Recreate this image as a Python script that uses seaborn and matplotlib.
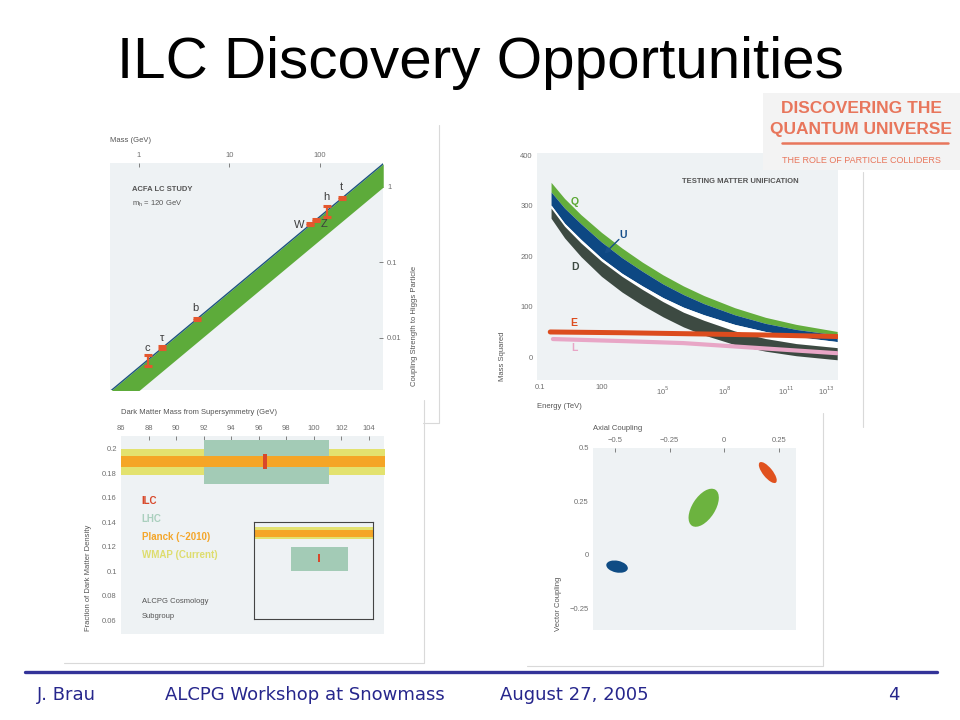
import matplotlib.pyplot as plt
import seaborn as sns
from matplotlib.patches import Ellipse, Rectangle
from matplotlib.ticker import NullLocator

sns.set_style("white")
plt.rcParams['font.family'] = ['Liberation Sans', 'DejaVu Sans']

W, H = 960, 720


def fx(px):
    return px / W


def fy(py):
    return 1 - py / H


def box(l, t, r, b):
    return [l / W, 1 - b / H, (r - l) / W, (b - t) / H]


PANEL_BG = "#eef2f4"
TICK_C = "#6f6f6f"
TEXT_C = "#555555"

# ---- panel 1: coupling strength vs mass
mass_edge = [0.48, 500]
coupling_hi = [0.00195, 2.03]
coupling_lo = [0.00096, 1.0]
particles = ["c", "τ", "b", "W", "Z", "h", "t"]
p_mass = [1.26, 1.8, 4.4, 77.6, 91, 120, 175]
p_coupling = [0.0051, 0.0074, 0.0179, 0.32, 0.366, 0.48, 0.715]
p_err = [0.0008, 0.0003, 0.0006, 0.01, 0.01, 0.08, 0.025]

# ---- panel 2: matter unification (x = log10 energy / TeV)
log_e = [-0.46, 0.2, 1.0, 2.0, 3.0, 4.0, 5.0, 6.0, 7.0, 8.5, 10.0, 11.5, 13.5]
q_top = [346, 314, 282, 247, 216, 188, 163, 141, 122, 98, 79, 65, 51]
u_top = [327, 295, 264, 228, 197, 170, 145, 124, 106, 84, 67, 55, 44]
u_bot = [301, 265, 233, 196, 166, 141, 118, 99, 84, 65, 51, 41, 31]
d_top = [295, 259, 226, 190, 160, 134, 110, 89, 73, 52, 37, 27, 19]
d_bot = [275, 236, 199, 160, 129, 103, 80, 60, 44, 25, 12, 3, -5]
e_loge = [-0.5, 3, 7, 10, 13.5]
e_mass = [50, 48.5, 46, 44, 41]
l_loge = [-0.37, 3, 6, 9, 13.5]
l_mass = [36, 32, 28, 20, 8]
e_ticks = [-1, 2, 5, 8, 11, 13]
e_labels = ["0.1", "100", "10$^5$", "10$^8$", "10$^{11}$", "10$^{13}$"]

# ---- panel 3: dark matter density
dm_range = [86, 105.2]
wmap_band = [0.179, 0.2]
planck_band = [0.1854, 0.1943]
lhc_mass = [92.0, 101.1]
lhc_band = [0.1715, 0.2073]
ilc_mass = [96.3, 96.6]
ilc_band = [0.1837, 0.196]
dm_legend = ["ILC", "LHC", "Planck (~2010)", "WMAP (Current)"]
dm_legend_colors = ["#d8482a", "#a9cfbd", "#f4a62a", "#dedd6e"]
# inset (schematic, fraction of inset box)
inset_wmap = [0.825, 0.948]
inset_planck = [0.845, 0.918]
inset_lhc_x = [0.311, 0.79]
inset_lhc_y = [0.495, 0.742]
inset_ilc_x = [0.538, 0.556]
inset_ilc_y = [0.588, 0.67]

# ---- panel 4: axial / vector couplings
ell_axial = [-0.49, -0.094, 0.199]
ell_vector = [-0.056, 0.22, 0.385]
ell_width = [0.10, 0.20, 0.12]
ell_height = [0.055, 0.105, 0.045]
ell_angle = [-12, 58, -52]
ell_color = ["#0f4c84", "#6cb33f", "#e0521f"]

fig = plt.figure(figsize=(9.6, 7.2), dpi=100)

# faint frames of the pasted figures
frame_c = "#d9d9d9"
for xs, ys in [([439, 439, 423], [125, 423, 423]),
               ([424, 424, 64], [400, 663, 663]),
               ([863, 863], [172, 427]),
               ([823, 823, 527], [413, 666, 666])]:
    fig.add_artist(plt.Line2D([fx(v) for v in xs], [fy(v) for v in ys],
                              color=frame_c, lw=0.8))


def style_axes(ax):
    ax.set_facecolor(PANEL_BG)
    for s in ax.spines.values():
        s.set_visible(False)
    ax.tick_params(direction="in", length=3, width=0.6, color=TICK_C,
                   labelsize=5.5, labelcolor=TICK_C, pad=3)
    ax.set_xlabel("")
    ax.set_ylabel("")


# ===== panel 1 =====
ax1 = fig.add_axes(box(110, 163, 383, 390))
ax1.set_xscale("log")
ax1.set_yscale("log")
ax1.fill_between(mass_edge, coupling_lo, coupling_hi, color="#5dab3a", lw=0)
sns.lineplot(x=mass_edge, y=coupling_hi, ax=ax1, color="#1d557f", lw=1.0)
ax1.errorbar(p_mass, p_coupling, yerr=p_err, fmt="none", ecolor="#e4572e",
             elinewidth=1.6, capsize=2.6, capthick=2.2, zorder=5)
label_off = [(-1, 12), (0, 10), (-2, 11), (-11, -1), (8, -4), (-1, 14), (-1, 11)]
for name, m, c, off in zip(particles, p_mass, p_coupling, label_off):
    ax1.annotate(name, (m, c), xytext=off, textcoords="offset pixels",
                 ha="center", va="center", fontsize=8, color="#3d3d3d")
ax1.set_xlim(0.48, 497)
ax1.set_ylim(0.00204, 2.08)
style_axes(ax1)
ax1.xaxis.tick_top()
ax1.yaxis.tick_right()
ax1.set_xticks([1, 10, 100], ["1", "10", "100"])
ax1.set_yticks([0.01, 0.1, 1], ["0.01", "0.1", "1"])
ax1.xaxis.set_minor_locator(NullLocator())
ax1.yaxis.set_minor_locator(NullLocator())
ax1.text(0.08, 0.885, "ACFA LC STUDY", transform=ax1.transAxes,
         fontsize=5.5, fontweight="bold", color="#555", va="center")
ax1.text(0.08, 0.82, "m$_\\mathregular{h}$ = 120 GeV", transform=ax1.transAxes,
         fontsize=5.5, color="#555", va="center")
fig.text(fx(110), fy(140), "Mass (GeV)", fontsize=5.5, color=TEXT_C, va="center")
fig.text(fx(415), fy(326), "Coupling Strength to Higgs Particle", fontsize=5.5,
         color=TEXT_C, rotation=90, ha="center", va="center")

# ===== panel 2 =====
ax2 = fig.add_axes(box(537, 153, 838, 380))
ax2.fill_between(log_e, u_top, q_top, color="#63ad3c", lw=0)
ax2.fill_between(log_e, u_bot, u_top, color="#0d4883", lw=0)
ax2.fill_between(log_e, d_top, u_bot, color="white", lw=0)
ax2.fill_between(log_e, d_bot, d_top, color="#3d4a42", lw=0)
sns.lineplot(x=e_loge, y=e_mass, ax=ax2, color="#dc4c1e", lw=3.6)
sns.lineplot(x=l_loge, y=l_mass, ax=ax2, color="#e8a6c6", lw=3.0)
ax2.text(0.71, 307, "Q", color="#5aa832", fontsize=7.5, fontweight="bold",
         ha="center", va="center")
ax2.text(3.05, 242, "U", color="#164f8a", fontsize=7.5, fontweight="bold",
         ha="center", va="center")
ax2.annotate("", xy=(2.15, 205), xytext=(2.85, 233),
             arrowprops=dict(arrowstyle="-|>,head_length=0.35,head_width=0.18",
                             color="#164f8a", lw=1.0, shrinkA=0, shrinkB=0))
ax2.text(0.71, 178, "D", color="#3d4a42", fontsize=7.5, fontweight="bold",
         ha="center", va="center")
ax2.text(0.66, 67, "E", color="#dc4c1e", fontsize=7.5, fontweight="bold",
         ha="center", va="center")
ax2.text(0.66, 18, "L", color="#e8a6c6", fontsize=7.5, fontweight="bold",
         ha="center", va="center")
ax2.text(8.76, 347, "TESTING MATTER UNIFICATION", fontsize=5.5,
         fontweight="bold", color="#555", ha="center", va="center")
ax2.set_xlim(-1.146, 13.54)
ax2.set_ylim(-45, 404)
style_axes(ax2)
ax2.set_xticks(e_ticks, e_labels)
ax2.set_yticks([0, 100, 200, 300, 400])
fig.text(fx(537), fy(407), "Energy (TeV)", fontsize=5.5, color=TEXT_C, va="center")
fig.text(fx(503), fy(356), "Mass Squared", fontsize=5.5, color=TEXT_C,
         rotation=90, ha="center", va="center")

# ===== panel 3 =====
ax3 = fig.add_axes(box(121, 436, 384, 634))
ax3.fill_between(dm_range, wmap_band[0], wmap_band[1], color="#e3e26f", lw=0)
ax3.fill_between(lhc_mass, lhc_band[0], lhc_band[1], color="#a3cbb6", lw=0)
ax3.fill_between(dm_range, planck_band[0], planck_band[1], color="#f5a526", lw=0)
ax3.fill_between(ilc_mass, ilc_band[0], ilc_band[1], color="#d8482a", lw=0)
leg_y = [0.1577, 0.1423, 0.1276, 0.1130]
for txt, col, yy in zip(dm_legend, dm_legend_colors, leg_y):
    ax3.text(87.5, yy, txt, color=col, fontsize=7, fontweight="bold", va="center")
ax3.text(87.5, 0.0748, "ALCPG Cosmology", color="#555", fontsize=5.5, va="center")
ax3.text(87.5, 0.0626, "Subgroup", color="#555", fontsize=5.5, va="center")
ax3.set_xlim(86, 105.1)
ax3.set_ylim(0.0486, 0.2106)
style_axes(ax3)
ax3.xaxis.tick_top()
ax3.set_xticks(list(range(88, 105, 2)))
ax3.set_yticks([0.06, 0.08, 0.1, 0.12, 0.14, 0.16, 0.18, 0.2],
               ["0.06", "0.08", "0.1", "0.12", "0.14", "0.16", "0.18", "0.2"])
fig.text(fx(121), fy(428), "86", fontsize=5.5, color=TICK_C, ha="center", va="center")
fig.text(fx(121), fy(413), "Dark Matter Mass from Supersymmetry (GeV)",
         fontsize=5.5, color=TEXT_C, va="center")
fig.text(fx(89), fy(578), "Fraction of Dark Matter Density", fontsize=5.5,
         color=TEXT_C, rotation=90, ha="center", va="center")

axi = fig.add_axes(box(254, 522, 373, 619))
axi.set_facecolor("none")
axi.fill_between([0, 1], inset_wmap[0], inset_wmap[1], color="#e3e26f", lw=0)
axi.fill_between([0, 1], inset_planck[0], inset_planck[1], color="#f5a526", lw=0)
axi.fill_between(inset_lhc_x, inset_lhc_y[0], inset_lhc_y[1], color="#a3cbb6", lw=0)
axi.fill_between(inset_ilc_x, inset_ilc_y[0], inset_ilc_y[1], color="#d8482a", lw=0)
axi.set_xlim(0, 1)
axi.set_ylim(0, 1)
axi.set_xticks([])
axi.set_yticks([])
for s in axi.spines.values():
    s.set_color("#444")
    s.set_linewidth(0.8)

# ===== panel 4 =====
ax4 = fig.add_axes(box(593, 448, 796, 630))
for x, y, w, h, a, c in zip(ell_axial, ell_vector, ell_width, ell_height,
                            ell_angle, ell_color):
    ax4.add_patch(Ellipse((x, y), w, h, angle=a, color=c, lw=0))
ax4.set_xlim(-0.60, 0.328)
ax4.set_ylim(-0.353, 0.5)
style_axes(ax4)
ax4.xaxis.tick_top()
ax4.set_xticks([-0.5, -0.25, 0, 0.25], ["\u22120.5", "\u22120.25", "0", "0.25"])
ax4.set_yticks([-0.25, 0, 0.25, 0.5], ["\u22120.25", "0", "0.25", "0.5"])
fig.text(fx(593), fy(428), "Axial Coupling", fontsize=5.5, color=TEXT_C, va="center")
fig.text(fx(558), fy(604), "Vector Coupling", fontsize=5.5, color=TEXT_C,
         rotation=90, ha="center", va="center")

# ===== logo =====
fig.add_artist(Rectangle((fx(763), fy(170)), (960 - 763) / W, 77 / H,
                         transform=fig.transFigure, color="#f3f3f3", lw=0))
logo_c = "#e8765c"
fig.text(fx(861), fy(113), "DISCOVERING THE", fontsize=12.5, fontweight="bold",
         color=logo_c, ha="center", va="baseline")
fig.text(fx(861), fy(134), "QUANTUM UNIVERSE", fontsize=12.5, fontweight="bold",
         color=logo_c, ha="center", va="baseline")
fig.add_artist(plt.Line2D([fx(782), fx(948)], [fy(143), fy(143)], color=logo_c, lw=1.8))
fig.text(fx(861), fy(163), "THE ROLE OF PARTICLE COLLIDERS", fontsize=6.5,
         color=logo_c, ha="center", va="baseline")

# ===== title and footer =====
fig.text(0.5, fy(78), "ILC Discovery Opportunities", fontsize=42,
         ha="center", va="baseline", color="black")
fig.add_artist(plt.Line2D([fx(25), fx(937)], [fy(672), fy(672)],
                          color="#333399", lw=2.4))
foot_c = "#26268c"
for txt, px in [("J. Brau", 37), ("ALCPG Workshop at Snowmass", 165),
                ("August 27, 2005", 500), ("4", 888)]:
    fig.text(fx(px), fy(700), txt, fontsize=13, color=foot_c,
             family="DejaVu Sans", va="baseline")

fig.savefig("out.png", dpi=100)
